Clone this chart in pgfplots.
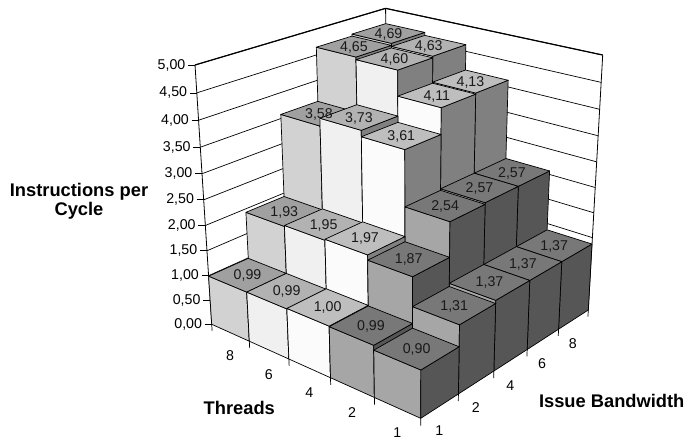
\documentclass[border=0pt]{standalone}
\usepackage{fontspec}
\setmainfont{Liberation Sans}
\usepackage{pgfplots}
\pgfplotsset{compat=1.18}

% Face shades per thread group: top, left-hand and right-hand side of a column
\definecolor{top0}{HTML}{A0A0A0}\definecolor{lft0}{HTML}{D2D2D2}\definecolor{rgt0}{HTML}{808080}
\definecolor{top1}{HTML}{B2B2B2}\definecolor{lft1}{HTML}{F0F0F0}\definecolor{rgt1}{HTML}{808080}
\definecolor{top2}{HTML}{BEBEBE}\definecolor{lft2}{HTML}{FBFBFB}\definecolor{rgt2}{HTML}{808080}
\definecolor{top3}{HTML}{787878}\definecolor{lft3}{HTML}{A6A6A6}\definecolor{rgt3}{HTML}{565656}
\definecolor{top4}{HTML}{787878}\definecolor{lft4}{HTML}{A6A6A6}\definecolor{rgt4}{HTML}{565656}

% Central projection of grid position (u,v) and height w onto the drawing plane
\newcommand\Pt[4]{%
  \pgfmathsetmacro\dd{1-0.122*(#1)/5+0.142*(#2)/5-0.077*(#3)/5}%
  \pgfmathsetmacro\xx{(211.7+157.7*(#1)/5+230.67*(#2)/5-31.7*(#3)/5)/\dd}%
  \pgfmathsetmacro\yy{(324.3+43*(#1)/5-51.1*(#2)/5-264.3*(#3)/5)/\dd}%
  \expandafter\edef\csname #4\endcsname{(\xx,\yy)}}

\newcommand\Face[2]{%
  \edef\cmd{\noexpand\addplot[#1,mark=none,forget plot,line join=round] coordinates {#2};}\cmd}

\newcommand\valfmt[1]{\pgfmathprintnumber[fixed,fixed zerofill,precision=2,use comma,assume math mode=true]{#1}}
\gdef\barlabels{}

% One column: u = thread group, v = bandwidth group, #3 = instructions per cycle
\newcommand\Column[3]{%
  \pgfmathsetmacro\ua{#1}\pgfmathsetmacro\ub{#1+1}%
  \pgfmathsetmacro\va{#2}\pgfmathsetmacro\vb{#2+1}%
  \Pt{\ua}{\va}{0}{pA}\Pt{\ub}{\va}{0}{pB}\Pt{\ub}{\vb}{0}{pC}%
  \Pt{\ua}{\va}{#3}{pD}\Pt{\ub}{\va}{#3}{pE}\Pt{\ub}{\vb}{#3}{pF}\Pt{\ua}{\vb}{#3}{pG}%
  \Face{fill=lft#1,draw=black,line width=0.7pt}{\pA\pB\pE\pD\pA}%
  \Face{fill=rgt#1,draw=black,line width=0.7pt}{\pB\pC\pF\pE\pB}%
  \Face{fill=top#1,draw=black,line width=0.7pt}{\pD\pE\pF\pG\pD}%
  \pgfmathsetmacro\uc{#1+0.5}\pgfmathsetmacro\vc{#2+0.5}%
  \Pt{\uc}{\vc}{#3}{pM}%
  \xdef\barlabels{\unexpanded\expandafter{\barlabels}%
    \noexpand\node[font=\noexpand\lblfont,text=black!90,yshift=-1pt] at (axis cs:\xx,\yy) {\noexpand\valfmt{#3}};}}

% Grid line on both walls and value label on the left edge
\newcommand\Level[1]{%
  \Pt{0}{5}{#1}{pB}\Pt{5}{5}{#1}{pC}\Pt{0}{0}{#1}{pA}%
  \Face{draw=black,line width=0.7pt}{\pA\pB\pC}%
  \pgfmathsetmacro\ta{\xx-7}\pgfmathsetmacro\tb{\xx-9.5}\let\ty\yy
  \Face{draw=black,line width=0.7pt}{(\ta,\ty)\pA}%
  \edef\cmd{\noexpand\node[anchor=east,font=\noexpand\lblfont,inner sep=0pt] at (axis cs:\tb,\ty) {\noexpand\valfmt{#1}};}\cmd}

% Short tick below the floor edge
\newcommand\Foot[2]{\Pt{#1}{#2}{0}{pA}\Pt{#1}{#2}{-0.14}{pB}\Face{draw=black,line width=0.7pt}{\pA\pB}}

\newcommand\lblfont{\fontsize{14.2}{16}\selectfont}
\newcommand\ttlfont{\fontsize{18.3}{19.5}\selectfont\bfseries}

\begin{document}
\begin{tikzpicture}
\begin{axis}[
  scale only axis, width=688pt, height=440pt,
  xmin=0, xmax=688, ymin=0, ymax=440, y dir=reverse,
  hide axis, clip=false]
\path (axis cs:0,0) rectangle (axis cs:688,440);

% Walls
\Level{0.0}\Level{0.5}\Level{1.0}\Level{1.5}\Level{2.0}\Level{2.5}
\Level{3.0}\Level{3.5}\Level{4.0}\Level{4.5}
\Level{5.0}
\Pt{0}{0}{0}{pA}\Pt{0}{0}{5}{pB}\Pt{0}{5}{0}{pC}\Pt{0}{5}{5}{pD}\Pt{5}{5}{0}{pE}\Pt{5}{5}{5}{pF}
\Face{draw=black,line width=0.8pt}{\pA\pB}
\Face{draw=black,line width=0.8pt}{\pC\pD}
\Face{draw=black,line width=0.8pt}{\pE\pF}
\Face{draw=black,line width=1.2pt}{\pB\pD\pF}

% Columns, back to front
\Column{0}{4}{4.69}\Column{1}{4}{4.63}\Column{2}{4}{4.13}\Column{3}{4}{2.57}\Column{4}{4}{1.37}
\Column{0}{3}{4.65}\Column{1}{3}{4.60}\Column{2}{3}{4.11}\Column{3}{3}{2.57}\Column{4}{3}{1.37}
\Column{0}{2}{3.58}\Column{1}{2}{3.73}\Column{2}{2}{3.61}\Column{3}{2}{2.54}\Column{4}{2}{1.37}
\Column{0}{1}{1.93}\Column{1}{1}{1.95}\Column{2}{1}{1.97}\Column{3}{1}{1.87}\Column{4}{1}{1.31}
\Column{0}{0}{0.99}\Column{1}{0}{0.99}\Column{2}{0}{1.00}\Column{3}{0}{0.99}\Column{4}{0}{0.90}

\Foot{0}{0}\Foot{1}{0}\Foot{2}{0}\Foot{3}{0}\Foot{4}{0}\Foot{5}{0}
\Foot{5}{1}\Foot{5}{2}\Foot{5}{3}\Foot{5}{4}\Foot{5}{5}

\barlabels

% Category labels
\node[font=\lblfont] at (axis cs:230,356) {8};
\node[font=\lblfont] at (axis cs:268.7,374.3) {6};
\node[font=\lblfont] at (axis cs:309.3,392.7) {4};
\node[font=\lblfont] at (axis cs:352,412.3) {2};
\node[font=\lblfont] at (axis cs:397.3,432.3) {1};
\node[font=\lblfont] at (axis cs:439.3,431) {1};
\node[font=\lblfont] at (axis cs:475.7,407.3) {2};
\node[font=\lblfont] at (axis cs:510.3,385.7) {4};
\node[font=\lblfont] at (axis cs:542,364) {6};
\node[font=\lblfont] at (axis cs:572.7,343.3) {8};

% Axis titles
\node[font=\ttlfont] at (axis cs:239.3,408.3) {Threads};
\node[font=\ttlfont] at (axis cs:611.7,400.7) {Issue Bandwidth};
\node[font=\ttlfont,align=center] at (axis cs:79,201.5) {Instructions per\\Cycle};
\end{axis}
\end{tikzpicture}
\end{document}
